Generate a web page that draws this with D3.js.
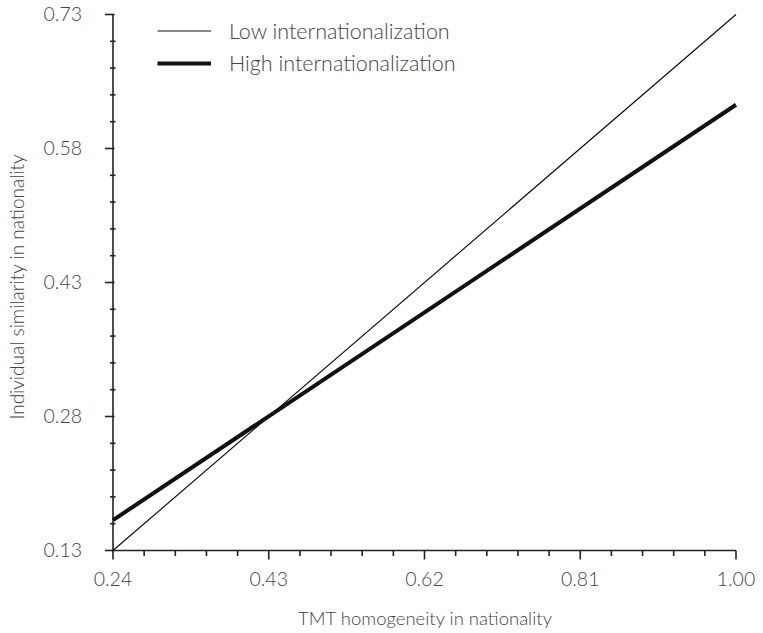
<!DOCTYPE html>
<html><head><meta charset="utf-8">
<script src="https://cdn.jsdelivr.net/npm/d3@7"></script>
<style>body{margin:0;background:#fff;} svg text{font-family:Lato, "Open Sans", sans-serif;font-weight:300;fill:#444;}</style>
</head><body><svg id="c" width="763" height="633"></svg>
<script>
const xTicks = [0.24, 0.43, 0.62, 0.81, 1.00];
const yTicks = [0.13, 0.28, 0.43, 0.58, 0.73];
const seriesNames = ["Low internationalization", "High internationalization"];
const xValues = [0.24, 1.00];
const lowValues = [0.13, 0.73];
const highValues = [0.164, 0.629];
const xTitle = "TMT homogeneity in nationality";
const yTitle = "Individual similarity in nationality";

const svg = d3.select("#c");
const m = {l:113, r:27, t:14.5, b:82.5};
const W = 763, H = 633;
const x = d3.scaleLinear().domain([0.24, 1.00]).range([m.l, W - m.r]);
const y = d3.scaleLinear().domain([0.13, 0.73]).range([H - m.b, m.t]);
const ink = "#222";

// minor ticks
const minorX = d3.range(0, 21).map(i => 0.24 + i * 0.038).filter((v,i)=> i % 5 !== 0);
const minorY = d3.range(0, 21).map(i => 0.13 + i * 0.03).filter((v,i)=> i % 5 !== 0);

const gx = svg.append("g").attr("transform", `translate(0,${y(0.13)})`);
gx.append("line").attr("x1", x(0.24)).attr("x2", x(1.0)).attr("stroke", ink).attr("stroke-width", 1.6);
gx.selectAll(".mj").data(xTicks).join("line").attr("x1", d=>x(d)).attr("x2", d=>x(d)).attr("y1", 0).attr("y2", 9).attr("stroke", ink).attr("stroke-width", 1.6);
gx.selectAll(".mn").data(minorX).join("line").attr("x1", d=>x(d)).attr("x2", d=>x(d)).attr("y1", 0).attr("y2", 5.5).attr("stroke", ink).attr("stroke-width", 1.6);
gx.selectAll("text").data(xTicks).join("text").attr("x", d=>x(d)).attr("y", 35).attr("text-anchor","middle").attr("font-size", 19.5).text(d=>d.toFixed(2));

const gy = svg.append("g").attr("transform", `translate(${x(0.24)},0)`);
gy.append("line").attr("y1", y(0.13)).attr("y2", y(0.73)).attr("stroke", ink).attr("stroke-width", 1.6);
gy.selectAll(".mj").data(yTicks).join("line").attr("y1", d=>y(d)).attr("y2", d=>y(d)).attr("x1", -8).attr("x2", 1.5).attr("stroke", ink).attr("stroke-width", 1.6);
gy.selectAll(".mn").data(minorY).join("line").attr("y1", d=>y(d)).attr("y2", d=>y(d)).attr("x1", -3).attr("x2", 2.5).attr("stroke", ink).attr("stroke-width", 1.6);
gy.selectAll("text").data(yTicks).join("text").attr("x", -31).attr("y", d=>y(d)).attr("dy","0.35em").attr("text-anchor","end").attr("font-size", 19.5).text(d=>d.toFixed(2));

svg.append("text").attr("x", 425).attr("y", 625).attr("text-anchor","middle").attr("font-size", 18.5).text(xTitle);
svg.append("text").attr("transform", `translate(24,287) rotate(-90)`).attr("text-anchor","middle").attr("font-size", 19).text(yTitle);

const line = d3.line().x(d=>x(d[0])).y(d=>y(d[1]));
svg.append("path").attr("d", line(xValues.map((v,i)=>[v, lowValues[i]]))).attr("fill","none").attr("stroke", "#111").attr("stroke-width", 1.2);
svg.append("path").attr("d", line(xValues.map((v,i)=>[v, highValues[i]]))).attr("fill","none").attr("stroke", "#111").attr("stroke-width", 4);

const lg = svg.append("g");
[[1.2, 31], [4, 63.5]].forEach((s, i) => {
  lg.append("line").attr("x1", 157.5).attr("x2", 211).attr("y1", s[1]).attr("y2", s[1]).attr("stroke", "#111").attr("stroke-width", s[0]);
  lg.append("text").attr("x", 229).attr("y", s[1]).attr("dy", "0.35em").attr("font-size", 21.5).text(seriesNames[i]);
});
</script></body></html>
